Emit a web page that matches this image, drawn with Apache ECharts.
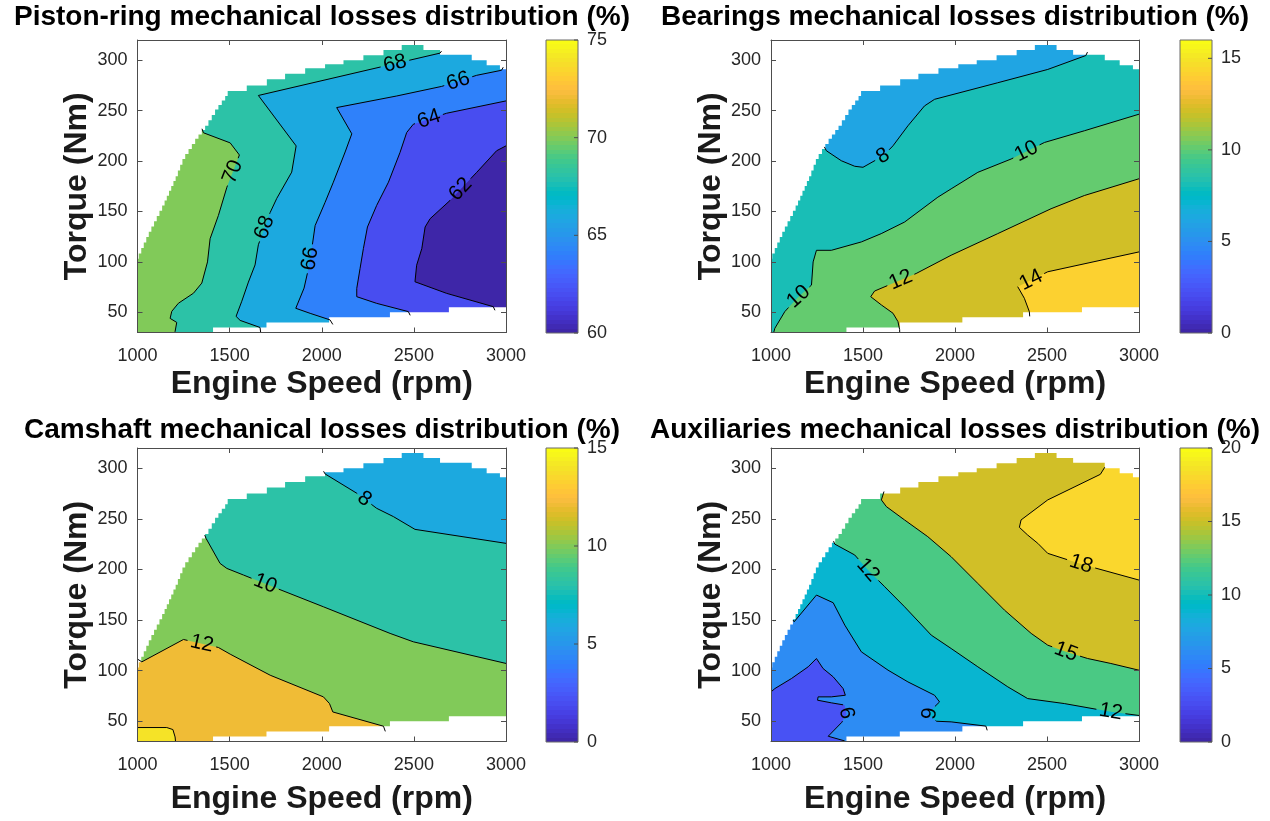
<!DOCTYPE html>
<html>
<head>
<meta charset="utf-8">
<title>Mechanical losses distribution</title>
<script src="https://cdn.jsdelivr.net/npm/echarts@6.0.0/dist/echarts.min.js"></script>
<style>
html,body{margin:0;padding:0;background:#ffffff;}
#chart{width:1270px;height:821px;}
</style>
</head>
<body>
<div id="chart"></div>
<script>
// ======================= DATA =======================
const speedTicks = [1000, 1500, 2000, 2500, 3000];
const torqueTicks = [50, 100, 150, 200, 250, 300];
const speedRange = [1000, 3000];
const torqueRange = [30, 320];

const titles = [
  'Piston-ring mechanical losses distribution (%)',
  'Bearings mechanical losses distribution (%)',
  'Camshaft mechanical losses distribution (%)',
  'Auxiliaries mechanical losses distribution (%)'
];
const xName = 'Engine Speed (rpm)';
const yName = 'Torque (Nm)';
const colorRanges = [[60, 75], [0, 16], [0, 15], [0, 20]];
const colorTicks = [[60, 65, 70, 75], [0, 5, 10, 15], [0, 5, 10, 15], [0, 5, 10, 15, 20]];

// engine operating envelope (rpm, Nm)
const upperEnv = [[1000,103],[1068,130],[1141,156],[1213,185],[1250,202],[1322,222],[1376,235],[1430,251],[1485,264.5],[1494,269.5],
  [1593,269.5],[1593,275],[1702,275],[1702,281],[1801,281],[1801,286.5],[1910,286.5],[1910,292],[2018,292],[2018,296],
  [2118,296],[2118,300],[2226,300],[2226,305],[2335,305],[2335,310],[2434,310],[2434,315],[2552,315],[2552,310],
  [2642,310],[2642,305.5],[2814,305.5],[2814,300],[2895,300],[2895,295],[2967,295],[2967,291],[3000,291]];
const lowerEnv = [[1000,30],[1410,30],[1410,35],[1700,35],[1700,40],[2040,40],[2040,45],[2370,45],[2370,50],[2690,50],[2690,55],[3000,55]];

// ---- Piston-ring contour lines ----
const p1c70 = [[1350,232],[1358,228],[1503,218],[1553,206],[1485,174],[1439,146],[1394,123],[1380,100],[1349,79],[1304,69],[1222,59],[1186,51],[1177,44],[1213,40],[1204,31],[1204,27]];
const p1c68 = [[2650,309],[2642,307],[1656,265],[1861,215],[1837,189],[1756,163],[1720,149],[1656,117],[1638,97],[1602,80],[1566,61],[1535,46],[1557,42],[1665,35],[1670,28]];
const p1c66 = [[2985,293],[2976,290],[2841,285],[2651,274],[2407,264.5],[2081,253],[2163,227],[2127,209],[2063,179],[2018,159],[1964,136],[1946,113],[1928,93.5],[1904,74],[1859,54],[1937,49],[2045,42.5],[2060,38]];
const p1c64 = [[3010,260],[2678,247.4],[2497,236.5],[2461,228.3],[2425,208.6],[2362,179],[2298,156],[2248,134.6],[2226,113.2],[2208,93.5],[2190,73.7],[2190,65.5],[2298,58.9],[2470,50.7],[2480,47]];
const p1c62 = [[3010,216],[2949,210.2],[2841,188.8],[2696,160.9],[2588,142.8],[2561,134.6],[2543,113.2],[2515,96.7],[2506,80.3],[2678,68.8],[2931,55.6],[2940,52]];
const p1lab70 = [[1521,189]];
const p1lab68 = [[2398,296],[1675,135]];
const p1lab66 = [[2741,279],[1937,103]];
const p1lab64 = [[2582,241.5]];
const p1lab62 = [[2759,171]];

// ---- Bearings contour lines ----
const p2c8 = [[1290,214],[1301,210.2],[1382,200.3],[1455,194.8],[1500,193.8],[1609,205],[1663,215.1],[1744,234.9],[1834,254.6],[1889,261.2],[2232,277.6],[2504,290.8],[2711,304.6],[2720,308]];
const p2c10 = [[3010,247],[2703,230],[2486,218.4],[2305,202],[2124,188.8],[1979,172.4],[1907,164.2],[1726,139.5],[1599,128],[1491,119.8],[1328,111.5],[1247,111.5],[1229,100],[1220,77],[1147,65],[1075,50.7],[1021,34.2],[1010,27]];
const p2c12 = [[3010,183],[2703,165.8],[2522,152.7],[2232,128],[1979,106.6],[1789,88.5],[1563,71.1],[1542,65.5],[1600,57.3],[1663,49.1],[1690,40.8],[1699,33],[1700,28]];
const p2c14 = [[3010,110.3],[2504,90.2],[2341,75.4],[2377,63.9],[2404,50.7],[2406,46]];
const p2lab8 = [[1609,204.6]];
const p2lab10 = [[2395,207],[1147,66]];
const p2lab12 = [[1708,81]];
const p2lab14 = [[2413,82]];

// ---- Camshaft contour lines ----
const p3c8 = [[2010,297],[2018,294.4],[2190,275.3],[2298,260.4],[2389,252.2],[2506,239.6],[3010,225.5]];
const p3c10 = [[1365,234],[1372,230.7],[1448,206],[1485,201],[1575,194.5],[1756,181.3],[2009,163.1],[2371,136.8],[2497,128.5],[3010,106.7]];
const p3c12 = [[995,112],[1023.5,108.7],[1249.5,130.8],[1439,122.9],[1503,116.3],[1720,95.5],[2009,74.1],[2042,67.5],[2060,59.2],[2335,45.1],[2345,40]];
const p3c14 = [[990,43.8],[1159,43.8],[1192,41.8],[1204,34.5],[1208,27]];
const p3lab8 = [[2226,268.5]];
const p3lab10 = [[1693,186]];
const p3lab12 = [[1349,126.5]];

// ---- Auxiliaries contour lines ----
const p4c6 = [[990,77.4],[1021,82.3],[1111,92.2],[1202,103.8],[1247,112],[1283,102.1],[1338,93.9],[1392,82.3],[1404,75.7],[1328,74.1],[1256,74.1],[1253,70.8],[1328,68.2],[1400,66],[1410,57],[1385,49],[1311,35.2],[1400,30.6],[1405,27]];
const p4c9 = [[1120,150],[1126,148.3],[1247,174.7],[1338,167.1],[1401,145],[1491,118.6],[1636,100.5],[1744,88.9],[1889,75.7],[1916,69.1],[1865,60],[1862,55],[1900,50],[1979,49.4],[2168,45.2],[2175,41]];
const p4c12 = [[1340,228],[1346,225.1],[1455,214.3],[1527,199.4],[1618,182.9],[1726,163.1],[1871,135.1],[1979,121.9],[2124,103.8],[2287,84],[2395,72.4],[2594,67.5],[2847,59.3],[3010,55.5]];
const p4c15 = [[1614,277],[1600,268.7],[1627,262.1],[1726,248.9],[1852,232.4],[1979,212.6],[2124,186.2],[2269,159.8],[2414,136.8],[2504,125.2],[2603,118.6],[2721,112],[2847,107.1],[3010,100]];
const p4c18 = [[2814,301],[2790,294],[2504,268.7],[2359,248.9],[2350,241.6],[2395,234],[2450,225.8],[2504,215.9],[2685,205.3],[3010,189]];
const p4lab6 = [[1407,58]];
const p4lab9 = [[1863,57.5]];
const p4lab12 = [[1527,199.4],[2847,59.3]];
const p4lab15 = [[2603,118.6]];
const p4lab18 = [[2685,205.3]];

// ======================= STYLE / LAYOUT =======================
const FONT = '"Liberation Sans", Arial, Helvetica, sans-serif';
const AX = '#4d4d4d';
const TXT = '#262626';
const PARULA = [[0.2422,0.1504,0.6603],[0.2504,0.1650,0.7076],[0.2578,0.1818,0.7511],[0.2647,0.1978,0.7952],[0.2706,0.2147,0.8364],[0.2751,0.2342,0.8710],[0.2783,0.2559,0.8991],[0.2803,0.2782,0.9221],[0.2813,0.3006,0.9414],[0.2810,0.3228,0.9579],[0.2795,0.3447,0.9717],[0.2760,0.3667,0.9829],[0.2699,0.3892,0.9906],[0.2602,0.4123,0.9952],[0.2440,0.4358,0.9988],[0.2206,0.4603,0.9973],[0.1963,0.4847,0.9892],[0.1834,0.5074,0.9798],[0.1786,0.5289,0.9682],[0.1764,0.5499,0.9520],[0.1687,0.5703,0.9359],[0.1540,0.5902,0.9218],[0.1460,0.6091,0.9079],[0.1380,0.6276,0.8973],[0.1248,0.6459,0.8883],[0.1113,0.6635,0.8763],[0.0952,0.6798,0.8598],[0.0689,0.6948,0.8394],[0.0297,0.7082,0.8163],[0.0036,0.7197,0.7917],[0.0067,0.7291,0.7660],[0.0433,0.7374,0.7390],[0.0964,0.7451,0.7120],[0.1408,0.7525,0.6835],[0.1717,0.7600,0.6554],[0.1938,0.7678,0.6251],[0.2161,0.7758,0.5923],[0.2470,0.7839,0.5567],[0.2906,0.7901,0.5188],[0.3406,0.7942,0.4789],[0.3909,0.7959,0.4354],[0.4456,0.7957,0.3909],[0.5044,0.7929,0.3480],[0.5616,0.7877,0.3045],[0.6174,0.7807,0.2612],[0.6720,0.7726,0.2227],[0.7242,0.7641,0.1910],[0.7738,0.7560,0.1646],[0.8203,0.7487,0.1535],[0.8634,0.7423,0.1596],[0.9035,0.7377,0.1774],[0.9393,0.7365,0.2100],[0.9728,0.7394,0.2394],[0.9956,0.7529,0.2371],[0.9970,0.7744,0.2199],[0.9952,0.7966,0.2028],[0.9892,0.8195,0.1885],[0.9786,0.8427,0.1766],[0.9676,0.8666,0.1643],[0.9610,0.8910,0.1537],[0.9597,0.9153,0.1423],[0.9628,0.9394,0.1265],[0.9691,0.9630,0.1064],[0.9769,0.9839,0.0805]];
function rgb(c){ return 'rgb(' + Math.round(c[0]*255) + ',' + Math.round(c[1]*255) + ',' + Math.round(c[2]*255) + ')'; }
function levelColor(v, range){
  let i = Math.floor((v - range[0]) / (range[1] - range[0]) * PARULA.length);
  i = Math.max(0, Math.min(PARULA.length - 1, i));
  return rgb(PARULA[i]);
}
const plotGrids = [
  {left:137.5, top:40, width:368.5, height:292.5},
  {left:771, top:40, width:368, height:292.5},
  {left:137.5, top:448, width:368.5, height:293.5},
  {left:771, top:448, width:368, height:293.5}
];
const cbGrids = [
  {left:546, top:40, width:32, height:293},
  {left:1180, top:40, width:32, height:293},
  {left:546, top:448, width:32, height:294},
  {left:1180, top:448, width:32, height:294}
];
const titlePos = [[322, 17], [955, 17], [322, 430], [955, 430]];
const xNameGap = [36, 36, 42, 42];
const STEP_PX = 5; // pixel height of the grid-cell staircase on the sloped envelope edge

// region polygons (super/sub-level sets), closed outside the drawn domain
const FULL = [[800,0],[3200,0],[3200,400],[800,400]];
const panels = [
  { range: colorRanges[0], ticks: colorTicks[0], title: titles[0],
    regions: [[70, FULL], [68, p1c70.concat([[1204,0],[3200,0],[3200,400],[1350,400]])],
              [66, p1c68.concat([[1670,0],[3200,0],[3200,400],[2650,400]])],
              [64, p1c66.concat([[2060,0],[3200,0],[3200,400],[2985,400]])],
              [62, p1c64.concat([[2480,0],[3200,0],[3200,260]])],
              [60, p1c62.concat([[2940,0],[3200,0],[3200,216]])]],
    lines: [[70,p1c70,p1lab70],[68,p1c68,p1lab68],[66,p1c66,p1lab66],[64,p1c64,p1lab64],[62,p1c62,p1lab62]] },
  { range: colorRanges[1], ticks: colorTicks[1], title: titles[1],
    regions: [[6, FULL], [8, p2c8.concat([[3200,308],[3200,0],[800,0],[800,214]])],
              [10, p2c10.concat([[1010,0],[3200,0],[3200,247]])],
              [12, p2c12.concat([[1700,0],[3200,0],[3200,183]])],
              [14, p2c14.concat([[2406,0],[3200,0],[3200,110.3]])]],
    lines: [[8,p2c8,p2lab8],[10,p2c10,p2lab10],[12,p2c12,p2lab12],[14,p2c14,p2lab14]] },
  { range: colorRanges[2], ticks: colorTicks[2], title: titles[2],
    regions: [[6, FULL], [8, p3c8.concat([[3200,225.5],[3200,0],[800,0],[800,297]])],
              [10, p3c10.concat([[3200,106.7],[3200,0],[800,0],[800,234]])],
              [12, p3c12.concat([[2345,0],[800,0],[800,112]])],
              [14, p3c14.concat([[1208,0],[800,0],[800,43.8]])]],
    lines: [[8,p3c8,p3lab8],[10,p3c10,p3lab10],[12,p3c12,p3lab12],[14,p3c14,[]]] },
  { range: colorRanges[3], ticks: colorTicks[3], title: titles[3],
    regions: [[6, FULL], [3, p4c6.concat([[1405,0],[800,0],[800,77.4]])],
              [9, p4c9.concat([[2175,0],[3200,0],[3200,400],[1120,400]])],
              [12, p4c12.concat([[3200,55.5],[3200,400],[1340,400]])],
              [15, p4c15.concat([[3200,100],[3200,400],[1614,400]])],
              [18, p4c18.concat([[3200,189],[3200,400],[2814,400]])]],
    lines: [[6,p4c6,p4lab6],[9,p4c9,p4lab9],[12,p4c12,p4lab12],[15,p4c15,p4lab15],[18,p4c18,p4lab18]] }
];
const upperMask = [[900, upperEnv[0][1]]].concat(upperEnv, [[3100, upperEnv[upperEnv.length-1][1]],[3100,400],[900,400]]);
const lowerMask = [[900, lowerEnv[0][1]]].concat(lowerEnv, [[3100, lowerEnv[lowerEnv.length-1][1]],[3100,0],[900,0]]);

// ======================= HELPERS =======================
// draw sloped edges of a pixel path as a grid-cell staircase (rendering style only)
function stairs(px){
  const out = [px[0]];
  for (let i = 0; i < px.length - 1; i++){
    const p = px[i], q = px[i+1], dx = q[0]-p[0], dy = q[1]-p[1];
    if (Math.abs(dx) > 0.5 && Math.abs(dy) > 0.5){
      const n = Math.max(1, Math.round(Math.abs(dy) / STEP_PX));
      for (let k = 0; k < n; k++){
        const xm = p[0] + dx*(k+0.5)/n;
        out.push([xm, p[1] + dy*k/n]);
        out.push([xm, p[1] + dy*(k+1)/n]);
      }
    }
    out.push(q);
  }
  return out;
}
function cutCircle(pts, c, r){
  const out = []; let cur = [];
  const P = (p,q,t) => [p[0]+(q[0]-p[0])*t, p[1]+(q[1]-p[1])*t];
  for (let i = 0; i < pts.length - 1; i++){
    const p = pts[i], q = pts[i+1];
    const dx = q[0]-p[0], dy = q[1]-p[1], fx = p[0]-c[0], fy = p[1]-c[1];
    const a = dx*dx+dy*dy, b = 2*(fx*dx+fy*dy), cc = fx*fx+fy*fy-r*r;
    const disc = b*b - 4*a*cc;
    let iv;
    if (a === 0 || disc <= 0) iv = [[0,1]];
    else {
      const s = Math.sqrt(disc), t1 = (-b-s)/(2*a), t2 = (-b+s)/(2*a);
      iv = [];
      if (t1 > 0) iv.push([0, Math.min(t1,1)]);
      if (t2 < 1) iv.push([Math.max(t2,0), 1]);
    }
    if (!iv.length){ if (cur.length > 1) out.push(cur); cur = []; continue; }
    iv.forEach(([ta,tb]) => {
      if (tb <= ta) return;
      if (ta > 0){ if (cur.length > 1) out.push(cur); cur = [P(p,q,ta)]; }
      else if (!cur.length) cur = [P(p,q,0)];
      cur.push(P(p,q,tb));
      if (tb < 1){ out.push(cur); cur = []; }
    });
  }
  if (cur.length > 1) out.push(cur);
  return out;
}
function nearest(pts, c){
  let best = null;
  for (let i = 0; i < pts.length - 1; i++){
    const p = pts[i], q = pts[i+1], dx = q[0]-p[0], dy = q[1]-p[1], L2 = dx*dx+dy*dy;
    let t = L2 ? ((c[0]-p[0])*dx + (c[1]-p[1])*dy)/L2 : 0;
    t = Math.max(0, Math.min(1, t));
    const x = p[0]+dx*t, y = p[1]+dy*t, d = (x-c[0])*(x-c[0])+(y-c[1])*(y-c[1]);
    if (!best || d < best.d) best = {d:d, pt:[x,y], ang:Math.atan2(dy,dx)};
  }
  return best;
}
function cbGradient(){
  const stops = [], n = PARULA.length;
  PARULA.forEach((c,i) => { stops.push({offset:i/n, color:rgb(c)}); stops.push({offset:(i+1)/n, color:rgb(c)}); });
  return {type:'linear', x:0, y:1, x2:0, y2:0, colorStops:stops};
}

// ======================= OPTION =======================
const grid = plotGrids.map(g => Object.assign({containLabel:false}, g)).concat(cbGrids.map(g => Object.assign({containLabel:false}, g)));
const xAxis = [], yAxis = [], series = [], graphic = [];
const axisLineStyle = {color:AX, width:1};
const nameStyle = {fontSize:32, fontWeight:'bold', color:'#1a1a1a', fontFamily:FONT};
panels.forEach((P, pi) => {
  xAxis.push({gridIndex:pi, type:'value', min:speedRange[0], max:speedRange[1], interval:500, position:'bottom', z:10,
    name:xName, nameLocation:'middle', nameGap:xNameGap[pi], nameTextStyle:nameStyle,
    axisLine:{show:true, onZero:false, lineStyle:axisLineStyle},
    axisTick:{show:true, inside:true, length:5, lineStyle:axisLineStyle, customValues:speedTicks},
    axisLabel:{margin:15, fontSize:18, color:TXT, fontFamily:FONT, customValues:speedTicks, formatter:v => String(v)},
    splitLine:{show:false}});
  xAxis.push({gridIndex:pi, type:'value', min:speedRange[0], max:speedRange[1], interval:500, position:'top', z:10,
    axisLine:{show:true, onZero:false, lineStyle:axisLineStyle},
    axisTick:{show:true, inside:true, length:5, lineStyle:axisLineStyle, customValues:speedTicks},
    axisLabel:{show:false}, splitLine:{show:false}});
  yAxis.push({gridIndex:pi, type:'value', min:torqueRange[0], max:torqueRange[1], position:'left', z:10,
    name:yName, nameLocation:'middle', nameGap:41, nameTextStyle:nameStyle,
    axisLine:{show:true, onZero:false, lineStyle:axisLineStyle},
    axisTick:{show:true, inside:true, length:5, lineStyle:axisLineStyle, customValues:torqueTicks},
    axisLabel:{margin:10, fontSize:18, color:TXT, fontFamily:FONT, customValues:torqueTicks, formatter:v => String(v)},
    splitLine:{show:false}});
  yAxis.push({gridIndex:pi, type:'value', min:torqueRange[0], max:torqueRange[1], position:'right', z:10,
    axisLine:{show:true, onZero:false, lineStyle:axisLineStyle},
    axisTick:{show:true, inside:true, length:5, lineStyle:axisLineStyle, customValues:torqueTicks},
    axisLabel:{show:false}, splitLine:{show:false}});

  const xi = 2*pi, yi = 2*pi;
  const regions = P.regions.map(r => ({color: levelColor(r[0], P.range), pts: r[1]}));
  series.push({type:'custom', xAxisIndex:xi, yAxisIndex:yi, clip:true, silent:true, z:2,
    data: regions.map((r,i) => [i]),
    renderItem: (params, api) => {
      const r = regions[params.dataIndex];
      return {type:'polygon', z2:params.dataIndex, shape:{points:r.pts.map(p => api.coord(p))}, style:{fill:r.color}};
    }});
  const masks = [upperMask, lowerMask];
  series.push({type:'custom', xAxisIndex:xi, yAxisIndex:yi, clip:true, silent:true, z:3,
    data: masks.map((m,i) => [i]),
    renderItem: (params, api) => {
      let pts = masks[params.dataIndex].map(p => api.coord(p));
      if (params.dataIndex === 0) pts = stairs(pts);
      return {type:'polygon', shape:{points:pts}, style:{fill:'#ffffff'}};
    }
  });
  const lines = P.lines;
  series.push({type:'custom', xAxisIndex:xi, yAxisIndex:yi, clip:true, silent:true, z:4,
    data: lines.map((l,i) => [i]),
    renderItem: (params, api) => {
      const L = lines[params.dataIndex];
      const px = L[1].map(p => api.coord(p));
      const fs = 21, txt = String(L[0]);
      const r = txt.length * 0.556 * fs / 2 + 3;
      let pieces = [px];
      const children = [];
      L[2].forEach(lab => {
        const nb = nearest(px, api.coord(lab));
        pieces = [].concat.apply([], pieces.map(pc => cutCircle(pc, nb.pt, r)));
        let a = nb.ang;
        if (a > Math.PI/2) a -= Math.PI;
        if (a < -Math.PI/2) a += Math.PI;
        children.push({type:'text', x:nb.pt[0], y:nb.pt[1], rotation:-a, z2:5,
          style:{text:txt, fontSize:fs, fontFamily:FONT, fill:'#000', align:'center', verticalAlign:'middle'}});
      });
      pieces.forEach(pc => children.push({type:'polyline', shape:{points:pc}, style:{stroke:'#000', lineWidth:1, fill:null}}));
      return {type:'group', children:children};
    }});
  graphic.push({type:'text', x:titlePos[pi][0], y:titlePos[pi][1],
    style:{text:P.title, fontSize:28, fontWeight:'bold', fontFamily:FONT, fill:'#000', align:'center', verticalAlign:'middle'}});
});
panels.forEach((P, pi) => {
  xAxis.push({gridIndex:4+pi, type:'value', min:0, max:1, show:false});
  yAxis.push({gridIndex:4+pi, type:'value', min:P.range[0], max:P.range[1], position:'right', z:10,
    axisLine:{show:false}, axisTick:{show:false},
    axisLabel:{margin:9, fontSize:18, color:TXT, fontFamily:FONT, customValues:P.ticks, formatter:v => String(v)},
    splitLine:{show:false}});
  const ticks = P.ticks;
  series.push({type:'custom', xAxisIndex:8+pi, yAxisIndex:8+pi, silent:true, z:2,
    data:[[P.range[0], P.range[1]]],
    renderItem: (params, api) => {
      const a = api.coord([0, api.value(0)]), b = api.coord([1, api.value(1)]);
      const children = [{type:'rect', shape:{x:a[0], y:b[1], width:b[0]-a[0], height:a[1]-b[1]},
        style:{fill:cbGradient(), stroke:'#6a6a6a', lineWidth:1}}];
      ticks.forEach(t => {
        const p = api.coord([1, t]);
        children.push({type:'line', shape:{x1:p[0]-4, y1:p[1], x2:p[0], y2:p[1]}, style:{stroke:AX, lineWidth:1}});
      });
      return {type:'group', children:children};
    }});
});

const chart = echarts.init(document.getElementById('chart'), null, {renderer:'canvas'});
chart.setOption({
  animation:false,
  backgroundColor:'#ffffff',
  grid: grid,
  xAxis: xAxis,
  yAxis: yAxis,
  series: series,
  graphic: graphic
});
</script>
</body>
</html>
